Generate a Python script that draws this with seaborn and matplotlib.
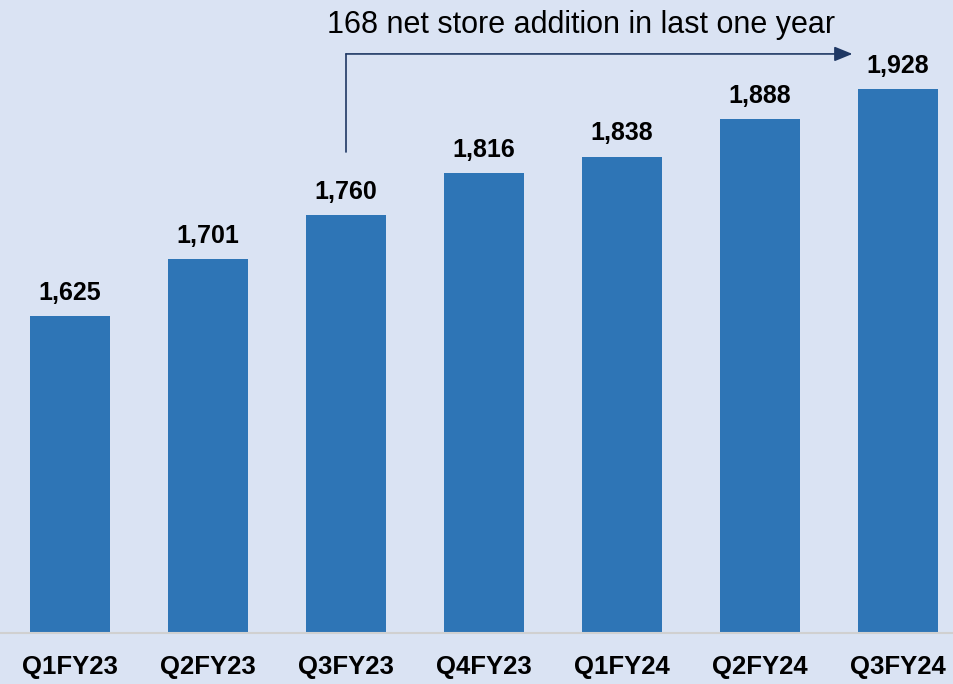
import matplotlib.pyplot as plt
import seaborn as sns

quarters = ['Q1FY23', 'Q2FY23', 'Q3FY23', 'Q4FY23', 'Q1FY24', 'Q2FY24', 'Q3FY24']
stores = [1625, 1701, 1760, 1816, 1838, 1888, 1928]

bg = '#DAE3F3'
bar_color = '#2E75B6'

sns.set_style('white')
plt.rcParams['font.family'] = ['Liberation Sans', 'DejaVu Sans']

fig = plt.figure(figsize=(9.54, 6.84), dpi=100, facecolor=bg)
ax = fig.add_axes([0, 51 / 684, 1, 633 / 684])
ax.set_facecolor(bg)

sns.barplot(x=quarters, y=stores, color=bar_color, saturation=1, width=0.58,
            linewidth=0, ax=ax)

ax.set_xlim(-0.507, 6.406)
ax.set_ylim(1202, 2047)

# value labels above the bars
for i, v in enumerate(stores):
    ax.annotate(f'{v:,}', (i, v), xytext=(0, 8), textcoords='offset points',
                ha='center', va='bottom', fontsize=18, fontweight='bold', color='black')

# arrow from Q3FY23 to Q3FY24
start = quarters.index('Q3FY23')
end = len(quarters) - 1
y_line = 1975
ax.plot([start, start], [1844, y_line], color='#1F3864', lw=1.2, clip_on=False)
ax.annotate('', xy=(end - 0.33, y_line), xytext=(start, y_line),
            arrowprops=dict(arrowstyle='-|>,head_length=1.1,head_width=0.45',
                            color='#1F3864', lw=1.2, shrinkA=0, shrinkB=0))
ax.text(start + 1.7, 2014, f'{stores[-1] - stores[start]} net store addition in last one year',
        ha='center', va='center', fontsize=22, color='black')

for s in ['top', 'right', 'left']:
    ax.spines[s].set_visible(False)
ax.spines['bottom'].set_color('#D0D0D0')
ax.spines['bottom'].set_linewidth(1.5)
ax.set_yticks([])
ax.tick_params(axis='x', length=0, pad=16, labelcolor='black')
for lbl in ax.get_xticklabels():
    lbl.set_fontsize(18.5)
    lbl.set_fontweight('bold')
ax.set_xlabel('')
ax.set_ylabel('')

fig.savefig('out.png', dpi=100, facecolor=bg)
